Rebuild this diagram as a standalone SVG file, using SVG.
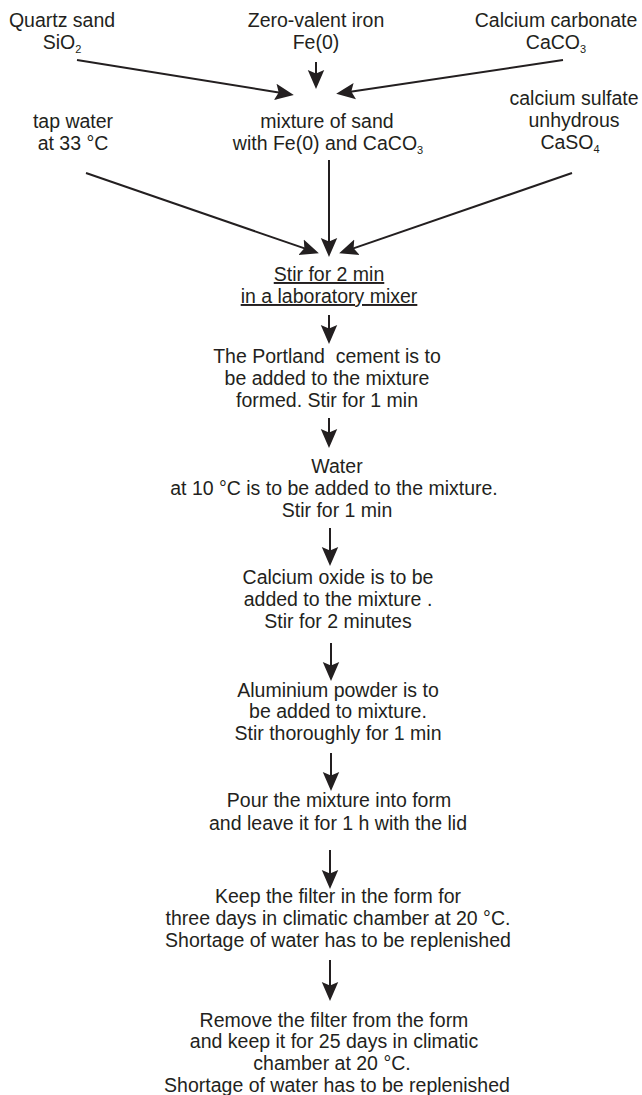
<svg xmlns="http://www.w3.org/2000/svg" width="642" height="1095" viewBox="0 0 642 1095">
<style>
text{font-family:"Liberation Sans",Arial,sans-serif;font-size:19.5px;fill:#231f20;text-anchor:middle}
.sub{font-size:11px}
.c{stroke:#231f20;stroke-width:2;fill:none;marker-end:url(#ah)}
.u{text-decoration:underline}
</style>
<defs>
<marker id="ah" markerUnits="userSpaceOnUse" markerWidth="20" markerHeight="20" viewBox="0 -8 17 16" refX="11" refY="0" orient="auto">
<path d="M0,-7 L16,0 L0,7 L3,0 z" fill="#231f20"/>
</marker>
</defs>
<rect width="642" height="1095" fill="#ffffff"/>
<g id="connectors">
<line class="c" x1="77" y1="60" x2="288" y2="94"/>
<line class="c" x1="316" y1="62" x2="316" y2="83"/>
<line class="c" x1="563" y1="60" x2="342" y2="93"/>
<line class="c" x1="86" y1="173" x2="313.3" y2="251.4"/>
<line class="c" x1="329" y1="160" x2="329" y2="251"/>
<line class="c" x1="572" y1="173" x2="344.7" y2="251.4"/>
<line class="c" x1="329" y1="315" x2="329" y2="338"/>
<line class="c" x1="329" y1="418" x2="329" y2="442"/>
<line class="c" x1="330" y1="528" x2="330" y2="560"/>
<line class="c" x1="331" y1="643" x2="331" y2="675"/>
<line class="c" x1="331" y1="753" x2="331" y2="785"/>
<line class="c" x1="330" y1="850" x2="330" y2="883"/>
<line class="c" x1="330" y1="960" x2="330" y2="995"/>
</g>
<g id="quartz"><text x="62" y="27">Quartz sand</text><text x="62" y="49">SiO<tspan class="sub" dy="4">2</tspan></text></g>
<g id="iron"><text x="316" y="27">Zero-valent iron</text><text x="316" y="49">Fe(0)</text></g>
<g id="carbonate"><text x="556" y="27">Calcium carbonate</text><text x="556" y="49">CaCO<tspan class="sub" dy="4">3</tspan></text></g>
<g id="tapwater"><text x="73" y="128">tap water</text><text x="73" y="150">at 33 °C</text></g>
<g id="mixture"><text x="327" y="128">mixture of sand</text><text x="328" y="150">with Fe(0) and CaCO<tspan class="sub" dy="4">3</tspan></text></g>
<g id="sulfate"><text x="574" y="105">calcium sulfate</text><text x="574" y="127">unhydrous</text><text x="570" y="149">CaSO<tspan class="sub" dy="4">4</tspan></text></g>
<g id="stir"><text class="u" x="329" y="281">Stir for 2 min</text><text class="u" x="329" y="303">in a laboratory mixer</text></g>
<g id="portland"><text x="327" y="363" xml:space="preserve">The Portland  cement is to</text><text x="327" y="385">be added to the mixture</text><text x="327" y="407">formed. Stir for 1 min</text></g>
<g id="water"><text x="337" y="473">Water</text><text x="334" y="495">at 10 °C is to be added to the mixture.</text><text x="337" y="517">Stir for 1 min</text></g>
<g id="cao"><text x="338" y="584">Calcium oxide is to be</text><text x="338" y="606">added to the mixture .</text><text x="338" y="628">Stir for 2 minutes</text></g>
<g id="aluminium"><text x="338" y="697">Aluminium powder is to</text><text x="338" y="718">be added to mixture.</text><text x="338" y="740">Stir thoroughly for 1 min</text></g>
<g id="pour"><text x="339" y="807">Pour the mixture into form</text><text x="338" y="830">and leave it for 1 h with the lid</text></g>
<g id="keep"><text x="338" y="903">Keep the filter in the form for</text><text x="338" y="925">three days in climatic chamber at 20 °C.</text><text x="338" y="947">Shortage of water has to be replenished</text></g>
<g id="remove"><text x="334" y="1027">Remove the filter from the form</text><text x="334" y="1048">and keep it for 25 days in climatic</text><text x="332" y="1070">chamber at 20 °C.</text><text x="337" y="1092">Shortage of water has to be replenished</text></g>
</svg>
